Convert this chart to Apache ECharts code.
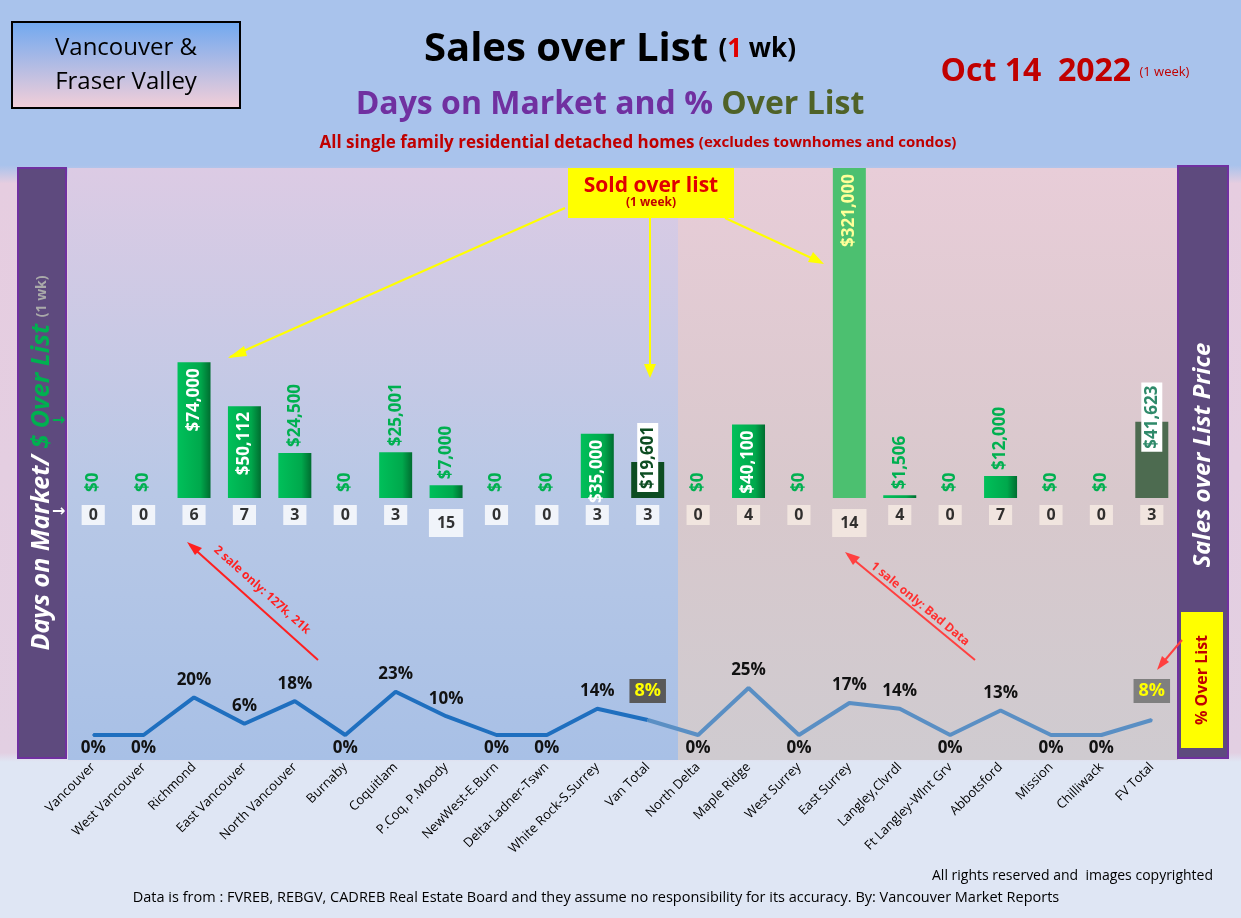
<!DOCTYPE html>
<html><head><meta charset="utf-8">
<script src="https://cdn.jsdelivr.net/npm/echarts@6/dist/echarts.min.js"></script>
<style>html,body{margin:0;padding:0}#c{width:1241px;height:918px}</style></head>
<body><div id="c"></div>
<script>
const categories=['Vancouver','West Vancouver','Richmond','East Vancouver','North Vancouver','Burnaby','Coquitlam','P.Coq, P.Moody','NewWest-E.Burn','Delta-Ladner-Tswn','White Rock-S.Surrey','Van Total','North Delta','Maple Ridge','West Surrey','East Surrey','Langley,Clvrdl','Ft Langley-Wlnt Grv','Abbotsford','Mission','Chilliwack','FV Total'];
const dollarsOver=[0,0,74000,50112,24500,0,25001,7000,0,0,35000,19601,0,40100,0,321000,1506,0,12000,0,0,41623];
const daysOnMarket=[0,0,6,7,3,0,3,15,0,0,3,3,0,4,0,14,4,0,7,0,0,3];
const pctOver=[0,0,20,6,18,0,23,10,0,0,14,8,0,25,0,17,14,0,13,0,0,8];
const VT=11, FT=21;

const F='"Open Sans", "DejaVu Sans", sans-serif';
const chart=echarts.init(document.getElementById('c'));
const barData=dollarsOver.map((v,i)=>{
  const tall=v>=35000;
  let color=new echarts.graphic.LinearGradient(0,0,1,0,[{offset:0,color:'#00c05a'},{offset:0.7,color:'#00a84c'},{offset:1,color:'#006d30'}]);
  if(i===15) color='#4cc070';
  if(i===VT) color='#0d4d22';
  if(i===FT) color='#4d6b50';
  const label=tall?{position:'insideTop',align:'right',distance:6,color:'#fff'}:{position:'top',align:'left',distance:6,color:'#00b050'};
  if(i===15) label.color='#ffff99';
  if(i===VT||i===FT){Object.assign(label,{position:'top',align:'left',distance:-30,color:i===VT?'#0d4d22':'#2f8a6a',backgroundColor:'#fff',padding:[2,3]});}
  return {value:v,itemStyle:{color},label};
});
function mkLine(from,to){
  return pctOver.map((v,i)=>{
    if(i<from||i>to) return '-';
    const o={value:v};
    if(i===VT||i===FT) o.label={position:'top',distance:16,color:'#ffff00',backgroundColor:i===VT?'#595959':'#7f7f7f',padding:[3,5],fontSize:18};
    else if(v===0) o.label={position:'bottom',distance:4};
    if(from>0&&i===from) o.label={show:false};
    return o;
  });
}
const daysData=daysOnMarket.map((v,i)=>({value:0,days:v,label:{backgroundColor:i>=12?'#f8ece4':'#ffffff',padding:(v>=10)?[6,8]:[2,7],offset:[0,(v>=10)?8:0]}}));
const lineLabel={show:true,position:'top',distance:8,fontFamily:F,fontWeight:'bold',fontSize:17,color:'#111',formatter:p=>p.value+'%'};

chart.setOption({
  animation:false,
  backgroundColor:new echarts.graphic.LinearGradient(0,0,0,1,[{offset:0,color:'#a9c3ec'},{offset:0.18,color:'#a9c3ec'},{offset:0.2,color:'#e6cde0'},{offset:0.82,color:'#e2cfe2'},{offset:0.83,color:'#dfe6f4'},{offset:1,color:'#dfe6f4'}]),
  graphic:[
    {type:'rect',shape:{x:68,y:168,width:610,height:592},style:{fill:new echarts.graphic.LinearGradient(0,0,0,1,[{offset:0,color:'#dccbe4'},{offset:0.55,color:'#b8c8e6'},{offset:1,color:'#a8c0e6'}])},z:-10},
    {type:'rect',shape:{x:678,y:168,width:500,height:592},style:{fill:new echarts.graphic.LinearGradient(0,0,0,1,[{offset:0,color:'#e8cdd8'},{offset:0.55,color:'#d8c8cc'},{offset:1,color:'#cfcbd0'}])},z:-10},
    {type:'rect',shape:{x:18,y:168,width:48,height:590},style:{fill:'#5e4a7e',stroke:'#7030a0',lineWidth:2}},
    {type:'text',x:42,y:463,rotation:Math.PI/2,style:{text:'{a|Days on Market/ }{g|$ Over List }{s|(1 wk)}',align:'center',verticalAlign:'middle',rich:{a:{fill:'#fff',font:'italic bold 25px '+F},g:{fill:'#00b050',font:'italic bold 25px '+F},s:{fill:'#aaa',font:'bold 14px '+F}}}},
    {type:'rect',shape:{x:1178,y:166,width:50,height:592},style:{fill:'#5e4a7e',stroke:'#7030a0',lineWidth:2}},
    {type:'text',x:1203,y:455,rotation:Math.PI/2,style:{text:'Sales over List Price',align:'center',verticalAlign:'middle',fill:'#fff',font:'italic bold 24px '+F}},
    {type:'rect',shape:{x:1181,y:612,width:42,height:136},style:{fill:'#ffff00'}},
    {type:'text',x:1202,y:680,rotation:Math.PI/2,style:{text:'% Over List',align:'center',verticalAlign:'middle',fill:'#c00000',font:'bold 16px '+F}},
    {type:'rect',shape:{x:12,y:22,width:228,height:86},style:{fill:new echarts.graphic.LinearGradient(0,0,0,1,[{offset:0,color:'#6fa8f0'},{offset:1,color:'#f4cfd8'}]),stroke:'#000',lineWidth:2}},
    {type:'text',x:126,y:65,style:{text:'Vancouver &\nFraser Valley',align:'center',verticalAlign:'middle',fill:'#000',font:'24px '+F,lineHeight:34}},
    {type:'text',x:610,y:50,style:{text:'{b|Sales over List }{s|(}{r|1}{s| wk)}',align:'center',verticalAlign:'middle',rich:{b:{fill:'#000',font:'bold 40px '+F},s:{fill:'#000',font:'bold 26px '+F},r:{fill:'#e00000',font:'bold 26px '+F}}}},
    {type:'text',x:610,y:105,style:{text:'{p|Days on Market and % }{g|Over List}',align:'center',verticalAlign:'middle',rich:{p:{fill:'#7030a0',font:'bold 32px '+F},g:{fill:'#4f6228',font:'bold 32px '+F}}}},
    {type:'text',x:638,y:143,style:{text:'{a|All single family residential detached homes }{b|(excludes townhomes and condos)}',align:'center',verticalAlign:'middle',rich:{a:{fill:'#c00000',font:'bold 17px '+F},b:{fill:'#c00000',font:'bold 15px '+F}}}},
    {type:'text',x:1065,y:72,style:{text:'{a|Oct 14  2022 }{b|(1 week)}',align:'center',verticalAlign:'middle',rich:{a:{fill:'#c00000',font:'bold 32px '+F},b:{fill:'#c00000',font:'13px '+F}}}},
    {type:'rect',shape:{x:568,y:168,width:166,height:50},style:{fill:'#ffff00'},z:20},
    {type:'text',x:651,y:192,z:21,style:{text:'{a|Sold over list}\n{b|(1 week)}',align:'center',verticalAlign:'middle',rich:{a:{fill:'#e00000',font:'bold 21px '+F},b:{fill:'#c00000',font:'bold 12px '+F}}}},
    {type:'line',shape:{x1:565,y1:208,x2:230,y2:357},style:{stroke:'#ffff00',lineWidth:2},z:20},
    {type:'polygon',shape:{points:[[228,358],[244,346],[247,356]]},style:{fill:'#ffff00'},z:20},
    {type:'line',shape:{x1:650,y1:218,x2:650,y2:374},style:{stroke:'#ffff00',lineWidth:2},z:20},
    {type:'polygon',shape:{points:[[650,378],[644,364],[656,364]]},style:{fill:'#ffff00'},z:20},
    {type:'line',shape:{x1:725,y1:218,x2:820,y2:262},style:{stroke:'#ffff00',lineWidth:2},z:20},
    {type:'polygon',shape:{points:[[824,264],[808,262],[813,252]]},style:{fill:'#ffff00'},z:20},
    {type:'line',shape:{x1:318,y1:660,x2:190,y2:545},style:{stroke:'#ff2020',lineWidth:2},z:20},
    {type:'polygon',shape:{points:[[187,542],[202,548],[195,555]]},style:{fill:'#ff2020'},z:20},
    {type:'text',x:262,y:590,rotation:-Math.atan2(115,128),z:20,style:{text:'2 sale only: 127k, 21k',align:'center',verticalAlign:'middle',fill:'#ff2020',font:'bold 12px '+F}},
    {type:'line',shape:{x1:975,y1:660,x2:848,y2:555},style:{stroke:'#ff4040',lineWidth:2},z:20},
    {type:'polygon',shape:{points:[[845,552],[860,557],[853,565]]},style:{fill:'#ff4040'},z:20},
    {type:'text',x:920,y:604,rotation:-Math.atan2(105,127),z:20,style:{text:'1 sale only: Bad Data',align:'center',verticalAlign:'middle',fill:'#ff3030',font:'bold 12px '+F}},
    {type:'line',shape:{x1:1182,y1:640,x2:1160,y2:666},style:{stroke:'#ff4040',lineWidth:2},z:20},
    {type:'polygon',shape:{points:[[1157,670],[1162,656],[1169,662]]},style:{fill:'#ff4040'},z:20},
    {type:'text',x:52,y:412,style:{text:'→',fill:'#00b050',font:'bold 16px '+F}},
    {type:'text',x:52,y:503,style:{text:'→',fill:'#fff',font:'bold 16px '+F}},
    {type:'text',x:1213,y:876,style:{text:'All rights reserved and  images copyrighted',align:'right',verticalAlign:'middle',fill:'#000',font:'14px '+F}},
    {type:'text',x:596,y:898,style:{text:'Data is from : FVREB, REBGV, CADREB Real Estate Board and they assume no responsibility for its accuracy. By: Vancouver Market Reports',align:'center',verticalAlign:'middle',fill:'#000',font:'14.5px '+F}}
  ],
  grid:[
    {left:68,right:64,top:168,height:330},
    {left:68,right:64,top:641,height:94},
    {left:68,right:64,top:505,height:20}
  ],
  xAxis:[
    {type:'category',data:categories,gridIndex:0,show:false},
    {type:'category',data:categories,gridIndex:1,axisLine:{show:false},axisTick:{show:false},offset:22,axisLabel:{rotate:45,interval:0,color:'#000',fontFamily:F,fontSize:13,margin:8}},
    {type:'category',data:categories,gridIndex:2,show:false}
  ],
  yAxis:[
    {type:'value',min:0,max:180000,gridIndex:0,show:false},
    {type:'value',min:0,max:50,gridIndex:1,show:false},
    {type:'value',min:-1,max:1,gridIndex:2,show:false}
  ],
  series:[
    {type:'bar',xAxisIndex:0,yAxisIndex:0,data:barData,barWidth:33,
     label:{show:true,rotate:90,verticalAlign:'middle',overflow:'none',fontFamily:F,fontWeight:'bold',fontSize:17,
       formatter:p=>'$'+p.value.toLocaleString('en-US')}},
    {type:'line',xAxisIndex:1,yAxisIndex:1,data:mkLine(0,11),symbol:'circle',symbolSize:2,showSymbol:true,showAllSymbol:true,itemStyle:{color:'#1f6fbf'},lineStyle:{width:4,color:'#1f6fbf'},label:lineLabel},
    {type:'line',xAxisIndex:1,yAxisIndex:1,data:mkLine(11,21),symbol:'circle',symbolSize:2,showSymbol:true,showAllSymbol:true,itemStyle:{color:'#5a8fc4'},lineStyle:{width:4,color:'#5a8fc4'},label:lineLabel},
    {type:'scatter',xAxisIndex:2,yAxisIndex:2,data:daysData,symbolSize:1,itemStyle:{color:'rgba(0,0,0,0)'},
     label:{show:true,position:'inside',fontFamily:F,fontWeight:'bold',fontSize:16,color:'#000',formatter:p=>String(p.data.days)}}
  ]
});
</script></body></html>
